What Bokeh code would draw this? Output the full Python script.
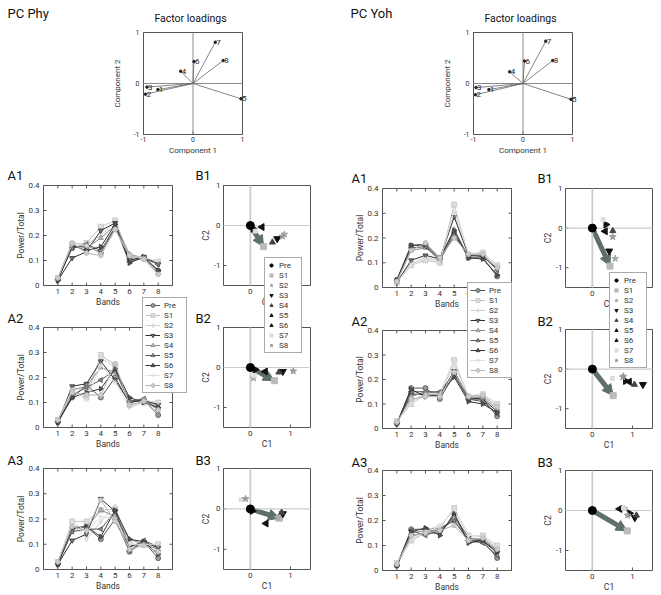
import numpy as np
from bokeh.plotting import figure
from bokeh.models import Range1d, Arrow, NormalHead, Legend, LegendItem
from bokeh.core.properties import value
from bokeh.embed import file_html
from bokeh.resources import INLINE

# ---------------- data ----------------
sessions = ["Pre", "S1", "S2", "S3", "S4", "S5", "S6", "S7", "S8"]
bands = [1, 2, 3, 4, 5, 6, 7, 8]
power_ticks = [0, 0.1, 0.2, 0.3, 0.4]
power_labels = ["0", "0.1", "0.2", "0.3", "0.4"]
pc_ticks = [-1, 0, 1]
c1_ticks = [0, 1]

loading_ids = ["1", "2", "3", "4", "5", "6", "7", "8"]
phy_load_c1 = [-0.71, -0.96, -0.93, -0.25, 0.97, 0.02, 0.45, 0.61]
phy_load_c2 = [-0.12, -0.21, -0.07, 0.24, -0.30, 0.43, 0.81, 0.45]
yoh_load_c1 = [-0.69, -0.96, -0.95, -0.27, 0.97, 0.03, 0.46, 0.60]
yoh_load_c2 = [-0.12, -0.22, -0.08, 0.23, -0.31, 0.44, 0.83, 0.45]

# power / total per band, one row per session (Pre, S1..S8)
phy_a1 = [[0.025, 0.15, 0.16, 0.13, 0.23, 0.11, 0.11, 0.06],
          [0.03, 0.165, 0.17, 0.235, 0.26, 0.12, 0.11, 0.095],
          [0.03, 0.17, 0.165, 0.20, 0.255, 0.115, 0.105, 0.09],
          [0.02, 0.11, 0.135, 0.22, 0.25, 0.10, 0.115, 0.085],
          [0.025, 0.16, 0.15, 0.19, 0.24, 0.125, 0.11, 0.05],
          [0.025, 0.15, 0.165, 0.14, 0.235, 0.095, 0.11, 0.085],
          [0.02, 0.16, 0.14, 0.155, 0.245, 0.09, 0.115, 0.06],
          [0.03, 0.165, 0.16, 0.125, 0.22, 0.12, 0.11, 0.10],
          [0.03, 0.17, 0.13, 0.12, 0.225, 0.12, 0.105, 0.045]]
phy_a2 = [[0.025, 0.12, 0.17, 0.12, 0.20, 0.10, 0.11, 0.05],
          [0.03, 0.14, 0.12, 0.29, 0.25, 0.09, 0.10, 0.10],
          [0.03, 0.16, 0.15, 0.28, 0.24, 0.08, 0.10, 0.09],
          [0.02, 0.165, 0.175, 0.265, 0.19, 0.10, 0.11, 0.09],
          [0.025, 0.15, 0.165, 0.24, 0.22, 0.11, 0.105, 0.08],
          [0.02, 0.13, 0.16, 0.19, 0.23, 0.105, 0.115, 0.07],
          [0.02, 0.12, 0.14, 0.155, 0.235, 0.12, 0.10, 0.08],
          [0.03, 0.15, 0.11, 0.25, 0.18, 0.08, 0.11, 0.10],
          [0.03, 0.14, 0.13, 0.13, 0.255, 0.09, 0.105, 0.07]]
phy_a3 = [[0.025, 0.16, 0.17, 0.12, 0.20, 0.07, 0.11, 0.045],
          [0.03, 0.19, 0.19, 0.235, 0.24, 0.10, 0.10, 0.10],
          [0.03, 0.18, 0.12, 0.19, 0.25, 0.09, 0.10, 0.09],
          [0.02, 0.115, 0.14, 0.28, 0.23, 0.09, 0.11, 0.085],
          [0.025, 0.17, 0.165, 0.235, 0.21, 0.12, 0.10, 0.08],
          [0.02, 0.15, 0.16, 0.16, 0.23, 0.075, 0.115, 0.09],
          [0.02, 0.165, 0.17, 0.13, 0.235, 0.12, 0.11, 0.06],
          [0.03, 0.19, 0.15, 0.21, 0.20, 0.10, 0.10, 0.10],
          [0.03, 0.17, 0.155, 0.275, 0.19, 0.08, 0.095, 0.07]]
yoh_a1 = [[0.03, 0.17, 0.17, 0.115, 0.22, 0.12, 0.12, 0.045],
          [0.02, 0.09, 0.11, 0.10, 0.335, 0.13, 0.14, 0.09],
          [0.025, 0.10, 0.12, 0.11, 0.30, 0.13, 0.145, 0.085],
          [0.02, 0.11, 0.13, 0.115, 0.285, 0.13, 0.125, 0.075],
          [0.025, 0.15, 0.16, 0.12, 0.235, 0.125, 0.12, 0.05],
          [0.03, 0.16, 0.165, 0.11, 0.21, 0.13, 0.13, 0.07],
          [0.03, 0.17, 0.175, 0.12, 0.23, 0.12, 0.115, 0.05],
          [0.02, 0.095, 0.115, 0.105, 0.31, 0.135, 0.14, 0.09],
          [0.025, 0.15, 0.18, 0.12, 0.20, 0.135, 0.135, 0.08]]
yoh_a2 = [[0.02, 0.165, 0.165, 0.12, 0.22, 0.12, 0.12, 0.05],
          [0.03, 0.10, 0.14, 0.14, 0.28, 0.13, 0.14, 0.10],
          [0.025, 0.11, 0.145, 0.14, 0.26, 0.135, 0.13, 0.09],
          [0.02, 0.14, 0.14, 0.135, 0.235, 0.125, 0.12, 0.07],
          [0.025, 0.13, 0.15, 0.145, 0.23, 0.13, 0.125, 0.08],
          [0.02, 0.15, 0.15, 0.15, 0.22, 0.12, 0.11, 0.06],
          [0.02, 0.16, 0.13, 0.14, 0.21, 0.11, 0.10, 0.065],
          [0.03, 0.105, 0.14, 0.14, 0.27, 0.135, 0.14, 0.10],
          [0.025, 0.12, 0.13, 0.13, 0.23, 0.13, 0.135, 0.09]]
yoh_a3 = [[0.02, 0.165, 0.165, 0.17, 0.20, 0.12, 0.12, 0.05],
          [0.03, 0.12, 0.15, 0.17, 0.25, 0.14, 0.14, 0.10],
          [0.025, 0.13, 0.16, 0.18, 0.24, 0.14, 0.135, 0.09],
          [0.02, 0.14, 0.15, 0.15, 0.22, 0.13, 0.12, 0.07],
          [0.025, 0.15, 0.16, 0.16, 0.21, 0.13, 0.125, 0.08],
          [0.02, 0.16, 0.14, 0.165, 0.20, 0.12, 0.11, 0.06],
          [0.02, 0.155, 0.17, 0.14, 0.23, 0.11, 0.12, 0.075],
          [0.03, 0.125, 0.155, 0.175, 0.245, 0.14, 0.14, 0.10],
          [0.025, 0.14, 0.15, 0.16, 0.18, 0.12, 0.13, 0.085]]

# principal component scores (C1, C2) per session
phy_b1_c1 = [0, 0.33, 0.85, 0.67, 0.55, 0.29, 0.07, 0.12, 0.80]
phy_b1_c2 = [0, -0.53, -0.22, -0.33, -0.42, -0.04, -0.08, -0.14, -0.27]
phy_b2_c1 = [0, 0.60, 0.08, 0.81, 0.71, 0.37, 0.12, 0.10, 1.07]
phy_b2_c2 = [0, -0.33, -0.27, -0.10, -0.12, -0.10, -0.05, -0.20, -0.09]
phy_b3_c1 = [0, 0.73, 0.68, 0.81, 0.78, 0.39, 0.05, -0.23, -0.12]
phy_b3_c2 = [0, -0.23, -0.22, -0.12, -0.09, -0.36, -0.05, 0.23, 0.25]
yoh_b1_c1 = [0, 0.44, 0.57, 0.42, 0.51, 0.32, 0.34, 0.27, 0.51]
yoh_b1_c2 = [0, -0.96, -0.77, -0.58, -0.07, -0.08, 0.09, 0.21, -0.22]
yoh_b2_c1 = [0, 0.52, 0.78, 1.26, 1.05, 0.92, 0.83, 0.50, 0.76]
yoh_b2_c2 = [0, -0.67, -0.18, -0.39, -0.39, -0.32, -0.30, -0.23, -0.20]
yoh_b3_c1 = [0, 0.87, 0.80, 1.06, 1.10, 0.68, 0.93, 0.78, 0.88]
yoh_b3_c2 = [0, -0.51, 0.05, -0.18, -0.12, 0.04, -0.07, 0.06, -0.12]

# ---------------- styles / layout ----------------
W, H = 660, 594
FONT = "Roboto"
AX = "#555555"
TXT = "#333333"

a_line = ["#555555", "#c4c4c4", "#cfcfcf", "#2e2e2e", "#8c8c8c", "#555555", "#333333", "#dedede", "#b4b4b4"]
a_fill = ["#9a9a9a", "#dddddd", "#e4e4e4", "#777777", "#b8b8b8", "#888888", "#555555", "#eeeeee", "#cccccc"]
a_marker = ["circle", "square", "diamond", "inverted_triangle", "triangle", "triangle", "triangle", "asterisk", "hex"]
a_angle = [0, 0, 0, 0, 0, np.pi / 2, -np.pi / 2, 0, 0]

b_color = ["#000000", "#bbbbbb", "#a8a8a8", "#111111", "#444444", "#111111", "#111111", "#dddddd", "#9a9a9a"]
b_marker = ["circle", "square", "star", "inverted_triangle", "triangle", "triangle", "triangle", "square", "star"]
b_size = [8, 6, 7, 7, 6, 7, 7, 4, 7]
ARROW = "#5f6f6a"

# panel frames in page pixels: (left, top, right, bottom)
BOX = {
    "loadL": (143, 32, 242, 134), "loadR": (473, 32, 572, 134),
    "A1L": (43, 185, 172, 285), "A2L": (43, 327, 172, 427), "A3L": (43, 468, 172, 569),
    "B1L": (223, 185, 310, 285), "B2L": (223, 327, 310, 427), "B3L": (223, 468, 310, 569),
    "A1R": (382, 188, 511, 287), "A2R": (382, 330, 511, 428), "A3R": (382, 470, 511, 570),
    "B1R": (565, 188, 652, 287), "B2R": (565, 329, 652, 428), "B3R": (565, 470, 652, 570),
}
A_XR, A_YR = (0, 9), (0, 0.4)
B_XR, B_YR = (-0.67, 1.5), (-1.5, 1.0)
L_XR, L_YR = (-1, 1), (-1, 1)

p = figure(width=W, height=H, x_range=Range1d(0, W), y_range=Range1d(H, 0),
           x_axis_type=None, y_axis_type=None, min_border=0, title=None,
           output_backend="svg", toolbar_location=None)
p.outline_line_color = None
p.background_fill_color = "white"
p.border_fill_color = "white"


def make_panel(box, xr, yr, xticks, yticks, xlabels, ylabels, xtitle, ytitle,
               tick_fs="8px", title_fs="8.5px", xlab_off=6, xtitle_off=16, ylab_off=4,
               ytitle_off=23, all_sides=False):
    x0, y0, x1, y1 = box
    sp = p.subplot(x_source=Range1d(*xr), y_source=Range1d(*yr),
                   x_target=Range1d(x0, x1), y_target=Range1d(y1, y0))
    dx = (xr[1] - xr[0]) / (x1 - x0)   # data units per pixel
    dy = (yr[1] - yr[0]) / (y1 - y0)
    tl = 3
    nx, ny = len(xticks), len(yticks)
    frame = sp.quad(left=[xr[0]], right=[xr[1]], bottom=[yr[0]], top=[yr[1]],
                    fill_color=None, line_color=AX, line_width=1)
    sp.segment(x0=xticks, x1=xticks, y0=[yr[0]] * nx, y1=[yr[0] + tl * dy] * nx, line_color=AX)
    sp.segment(x0=[xr[0]] * ny, x1=[xr[0] + tl * dx] * ny, y0=yticks, y1=yticks, line_color=AX)
    if all_sides:
        sp.segment(x0=xticks, x1=xticks, y0=[yr[1]] * nx, y1=[yr[1] - tl * dy] * nx, line_color=AX)
        sp.segment(x0=[xr[1]] * ny, x1=[xr[1] - tl * dx] * ny, y0=yticks, y1=yticks, line_color=AX)
    sp.text(x=xticks, y=[yr[0]] * nx, text=xlabels, text_font=value(FONT), text_font_size=tick_fs,
            text_color=TXT, text_align="center", text_baseline="middle", y_offset=xlab_off)
    sp.text(x=[xr[0]] * ny, y=yticks, text=ylabels, text_font=value(FONT), text_font_size=tick_fs,
            text_color=TXT, text_align="right", text_baseline="middle", x_offset=-ylab_off)
    sp.text(x=[(xr[0] + xr[1]) / 2], y=[yr[0]], text=[xtitle], text_font=value(FONT),
            text_font_size=title_fs, text_color=TXT, text_align="center", text_baseline="middle",
            y_offset=xtitle_off)
    sp.text(x=[xr[0] - ytitle_off * dx], y=[(yr[0] + yr[1]) / 2], text=[ytitle], angle=np.pi / 2,
            text_font=value(FONT), text_font_size=title_fs, text_color=TXT,
            text_align="center", text_baseline="middle")
    return sp, frame.coordinates


def style_legend(lg, glyph_w):
    lg.label_text_font = FONT
    lg.label_text_font_size = "8px"
    lg.label_text_color = TXT
    lg.glyph_width = glyph_w
    lg.glyph_height = 10
    lg.label_height = 10
    lg.label_standoff = 4
    lg.spacing = 0
    lg.padding = 2
    lg.margin = 0
    lg.border_line_color = AX
    lg.border_line_width = 1
    lg.background_fill_color = "white"
    lg.background_fill_alpha = 1.0


def legend_loc(top_left, height):
    # legend location is its bottom-left corner, measured from the canvas bottom-left
    return (top_left[0], H - (top_left[1] + height))


def load_panel(box, c1, c2):
    sp, _ = make_panel(box, L_XR, L_YR, pc_ticks, pc_ticks, ["-1", "0", "1"], ["-1", "0", "1"],
                       "Component 1", "Component 2", tick_fs="7px", title_fs="8px",
                       xlab_off=5, xtitle_off=16, ylab_off=4, ytitle_off=26)
    sp.segment(x0=[L_XR[0], 0], x1=[L_XR[1], 0], y0=[0, L_YR[0]], y1=[0, L_YR[1]],
               line_color="#8a8a8a", line_width=1)
    zeros = [0] * len(c1)
    sp.segment(x0=zeros, y0=zeros, x1=c1, y1=c2, line_color="#666666", line_width=0.8)
    sp.scatter(c1, c2, size=2.5, color="#222222")
    sp.text(c1, c2, text=loading_ids, text_font=value(FONT), text_font_size="8px",
            text_baseline="middle", text_align="left", x_offset=1, text_color="#222222")


def a_panel(box, data):
    sp, _ = make_panel(box, A_XR, A_YR, bands, power_ticks, [str(b) for b in bands], power_labels,
                       "Bands", "Power/Total", all_sides=True)
    items = []
    for i, s in enumerate(sessions):
        ln = sp.line(bands, data[i], line_color=a_line[i], line_width=1)
        mk = sp.scatter(bands, data[i], marker=a_marker[i], angle=a_angle[i], size=5,
                        fill_color=a_fill[i], line_color=a_line[i], line_width=0.8)
        items.append(LegendItem(label=s, renderers=[ln, mk]))
    return items


def b_panel(box, c1, c2):
    sp, coords = make_panel(box, B_XR, B_YR, c1_ticks, pc_ticks, ["0", "1"], ["-1", "0", "1"],
                            "C1", "C2", ytitle_off=18, ylab_off=3)
    sp.segment(x0=[B_XR[0]], x1=[B_XR[1]], y0=[0], y1=[0], line_color="#cccccc", line_width=1.2)
    sp.segment(x0=[0], x1=[0], y0=[B_YR[0]], y1=[B_YR[1]], line_color="#cccccc", line_width=1.8)
    p.add_layout(Arrow(x_start=c1[0], y_start=c2[0], x_end=c1[1], y_end=c2[1], coordinates=coords,
                       line_color=ARROW, line_width=5, level="underlay",
                       end=NormalHead(size=11, fill_color=ARROW, line_color=ARROW)))
    rend = {}
    for i in list(range(1, len(sessions))) + [0]:
        rend[i] = sp.scatter([c1[i]], [c2[i]], marker=b_marker[i], size=b_size[i],
                             angle=a_angle[i], fill_color=b_color[i], line_color=b_color[i])
    return [LegendItem(label=s, renderers=[rend[i]]) for i, s in enumerate(sessions)]


# ---------------- panels ----------------
load_panel(BOX["loadL"], phy_load_c1, phy_load_c2)
load_panel(BOX["loadR"], yoh_load_c1, yoh_load_c2)
a_items_l = a_panel(BOX["A1L"], phy_a1)
a_panel(BOX["A2L"], phy_a2)
a_panel(BOX["A3L"], phy_a3)
b_items_l = b_panel(BOX["B1L"], phy_b1_c1, phy_b1_c2)
b_panel(BOX["B2L"], phy_b2_c1, phy_b2_c2)
b_panel(BOX["B3L"], phy_b3_c1, phy_b3_c2)
a_items_r = a_panel(BOX["A1R"], yoh_a1)
a_panel(BOX["A2R"], yoh_a2)
a_panel(BOX["A3R"], yoh_a3)
b_items_r = b_panel(BOX["B1R"], yoh_b1_c1, yoh_b1_c2)
b_panel(BOX["B2R"], yoh_b2_c1, yoh_b2_c2)
b_panel(BOX["B3R"], yoh_b3_c1, yoh_b3_c2)

LEG_H = 94
for items, tl, gw in [(a_items_l, (142, 299), 15), (b_items_l, (264, 259), 8),
                      (a_items_r, (467, 284), 15), (b_items_r, (609, 274), 8)]:
    lg = Legend(items=items, location=legend_loc(tl, LEG_H))
    style_legend(lg, gw)
    p.add_layout(lg)

# ---------------- headings ----------------
big_txt = ["PC Phy", "PC Yoh", "A1", "B1", "A2", "B2", "A3", "B3", "A1", "B1", "A2", "B2", "A3", "B3"]
big_x = [7, 350, 7, 195, 7, 195, 7, 195, 351, 537, 351, 537, 351, 537]
big_y = [13, 13, 175, 175, 318, 318, 460, 460, 178, 178, 321, 321, 462, 462]
p.text(big_x, big_y, text=big_txt, text_font=value(FONT),
       text_font_size="13px", text_baseline="middle", text_align="left", text_color="#111111")
p.text([190, 520], [18, 18], text=["Factor loadings", "Factor loadings"],
       text_font=value(FONT), text_font_size="10.5px", text_baseline="middle", text_align="center",
       text_color="#111111")

open("out.html", "w").write(file_html(p, INLINE))
